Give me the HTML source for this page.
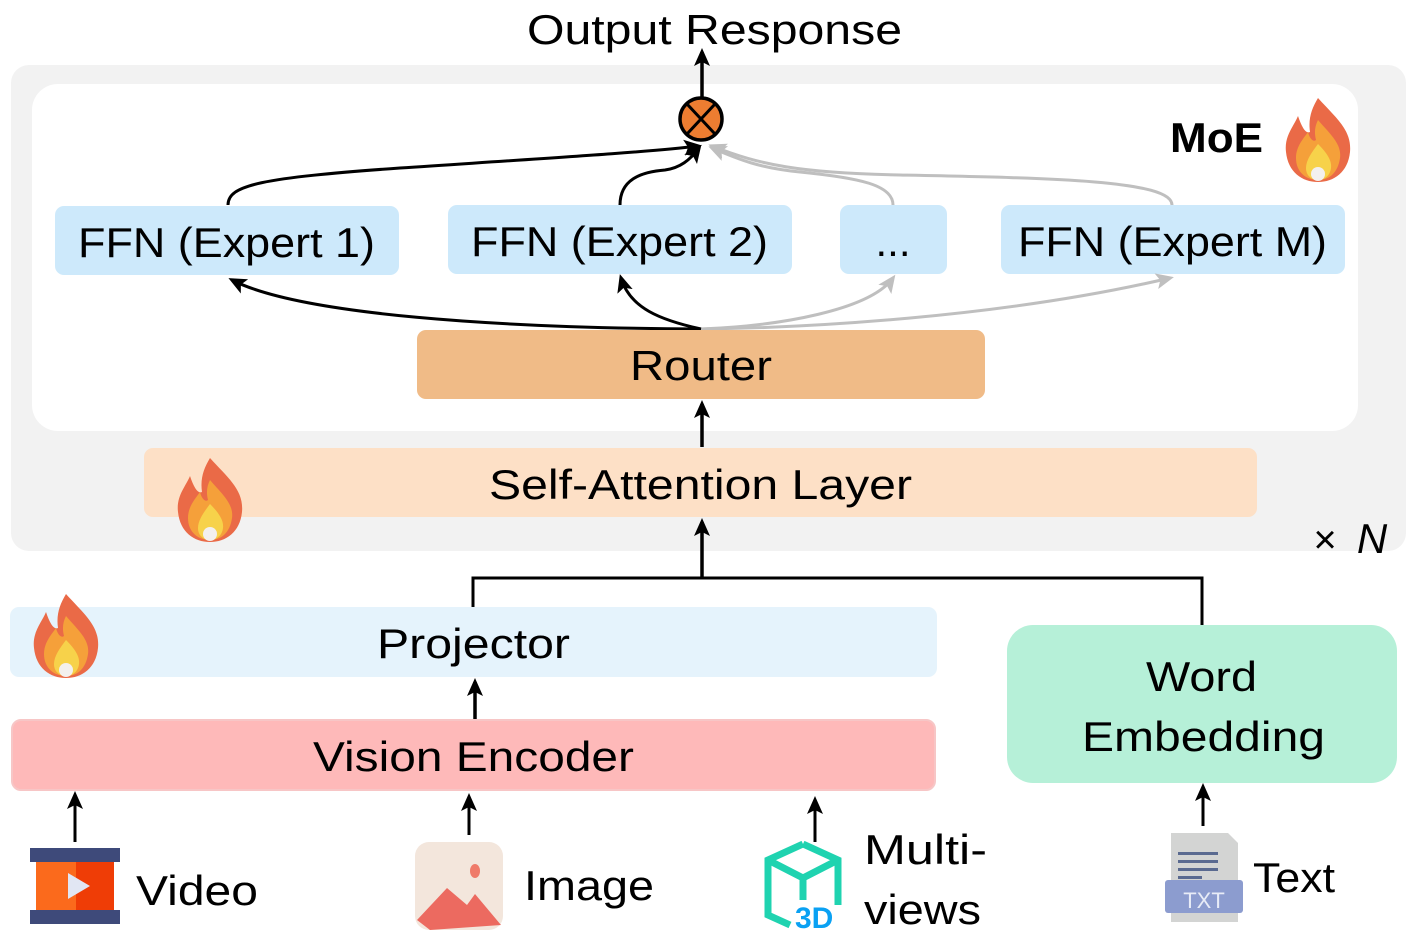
<!DOCTYPE html>
<html><head><meta charset="utf-8"><style>
body{margin:0;background:#fff;width:1414px;height:948px;overflow:hidden}
svg{display:block}
text{font-family:"Liberation Sans",sans-serif;fill:#000}
</style></head><body>
<svg width="1414" height="948" viewBox="0 0 1414 948">
<defs>
<marker id="abig" markerWidth="18" markerHeight="18" refX="14" refY="9" orient="auto" markerUnits="userSpaceOnUse"><path d="M0,1 L18,9 L0,17 L4,9 Z" fill="#000"/></marker>
<marker id="agray" markerWidth="18" markerHeight="18" refX="14" refY="9" orient="auto" markerUnits="userSpaceOnUse"><path d="M0,1 L18,9 L0,17 L4,9 Z" fill="#bfbfbf"/></marker>
<g id="fire">
<path d="M0,-42 C18,-22 34,-10 32,12 C30,32 16,42 0,42 C-16,42 -30,32 -32,12 C-34,-4 -24,-14 -20,-24 C-16,-12 -12,-6 -8,-8 C-10,-22 -6,-32 0,-42Z" fill="#ea6a47"/>
<path d="M0,-20 C12,-6 24,4 22,18 C20,32 12,40 0,40 C-12,40 -22,32 -22,18 C-22,6 -14,-2 -10,-8 C-8,0 -4,2 -2,0 C-4,-8 -3,-14 0,-20Z" fill="#f5a03a"/>
<path d="M0,4 C8,12 14,20 13,28 C12,36 6,40 0,40 C-6,40 -12,36 -12,28 C-12,20 -6,12 0,4Z" fill="#f7d24a"/>
<ellipse cx="0" cy="34" rx="7" ry="7" fill="#f3f0ee"/>
</g>
</defs>

<rect x="11" y="65" width="1395" height="486" rx="18" fill="#f2f2f2"/>
<rect x="32" y="84" width="1326" height="347" rx="26" fill="#fff"/>

<text x="527" y="44" font-size="42" textLength="375" lengthAdjust="spacingAndGlyphs">Output Response</text>
<line x1="702" y1="99" x2="702" y2="52" stroke="#000" stroke-width="3.5" marker-end="url(#abig)"/>

<path d="M1172,205 C1172,180 1050,178 900,175 C800,173 760,165 712,146" fill="none" stroke="#bfbfbf" stroke-width="3" marker-end="url(#agray)"/>
<path d="M893,205 C893,185 860,178 800,172 C760,168 740,160 712,148" fill="none" stroke="#bfbfbf" stroke-width="3" marker-end="url(#agray)"/>
<path d="M228,205 C228,185 260,178 400,168 C550,158 650,152 698,146" fill="none" stroke="#000" stroke-width="3" marker-end="url(#abig)"/>
<path d="M620,205 C620,180 640,172 665,170 C680,168 690,160 699,148" fill="none" stroke="#000" stroke-width="3" marker-end="url(#abig)"/>

<circle cx="701" cy="119" r="21" fill="#ed7d31" stroke="#000" stroke-width="3.5"/>
<line x1="687" y1="104" x2="715" y2="134" stroke="#000" stroke-width="3"/>
<line x1="715" y1="104" x2="687" y2="134" stroke="#000" stroke-width="3"/>

<text x="1170" y="152" font-size="42" font-weight="bold" textLength="93" lengthAdjust="spacingAndGlyphs">MoE</text>
<use href="#fire" transform="translate(1318,140)"/>

<rect x="55" y="206" width="344" height="69" rx="9" fill="#cde9fb"/>
<rect x="448" y="205" width="344" height="69" rx="9" fill="#cde9fb"/>
<rect x="840" y="205" width="107" height="69" rx="9" fill="#cde9fb"/>
<rect x="1001" y="205" width="344" height="69" rx="9" fill="#cde9fb"/>
<text x="78" y="257" font-size="42" textLength="297" lengthAdjust="spacingAndGlyphs">FFN (Expert 1)</text>
<text x="471" y="256" font-size="42" textLength="297" lengthAdjust="spacingAndGlyphs">FFN (Expert 2)</text>
<text x="893" y="256" font-size="42" text-anchor="middle">...</text>
<text x="1018" y="256" font-size="42" textLength="309" lengthAdjust="spacingAndGlyphs">FFN (Expert M)</text>

<path d="M701,329 C800,328 1000,318 1170,278" fill="none" stroke="#bfbfbf" stroke-width="3" marker-end="url(#agray)"/>
<path d="M701,329 C780,326 870,310 893,278" fill="none" stroke="#bfbfbf" stroke-width="3" marker-end="url(#agray)"/>
<path d="M701,329 C500,328 300,315 232,280" fill="none" stroke="#000" stroke-width="3" marker-end="url(#abig)"/>
<path d="M701,329 C660,320 630,308 621,278" fill="none" stroke="#000" stroke-width="3" marker-end="url(#abig)"/>

<rect x="417" y="330" width="568" height="69" rx="9" fill="#f0bb87"/>
<text x="630" y="380" font-size="42" textLength="142" lengthAdjust="spacingAndGlyphs">Router</text>
<line x1="702" y1="447" x2="702" y2="404" stroke="#000" stroke-width="3.5" marker-end="url(#abig)"/>

<rect x="144" y="448" width="1113" height="69" rx="9" fill="#fde0c6"/>
<text x="489" y="499" font-size="42" textLength="423" lengthAdjust="spacingAndGlyphs">Self-Attention Layer</text>
<use href="#fire" transform="translate(210,500)"/>

<text x="1325" y="553" font-size="40" text-anchor="middle">×</text>
<text x="1372" y="553" font-size="42" font-style="italic" font-family="Liberation Serif" text-anchor="middle">N</text>

<polyline points="473,607 473,578 1202,578 1202,625" fill="none" stroke="#000" stroke-width="3"/>
<line x1="702" y1="578" x2="702" y2="522" stroke="#000" stroke-width="3.5" marker-end="url(#abig)"/>

<rect x="10" y="607" width="927" height="70" rx="9" fill="#e5f3fc"/>
<text x="377" y="658" font-size="42" textLength="193" lengthAdjust="spacingAndGlyphs">Projector</text>
<use href="#fire" transform="translate(66,636)"/>
<line x1="475" y1="719" x2="475" y2="682" stroke="#000" stroke-width="3.5" marker-end="url(#abig)"/>

<rect x="12" y="720" width="923" height="70" rx="9" fill="#feb9b9" stroke="#f7c6c6" stroke-width="2"/>
<text x="313" y="771" font-size="42" textLength="321" lengthAdjust="spacingAndGlyphs">Vision Encoder</text>

<rect x="1007" y="625" width="390" height="158" rx="26" fill="#b6f0d8"/>
<text x="1146" y="691" font-size="42" textLength="111" lengthAdjust="spacingAndGlyphs">Word</text>
<text x="1082" y="751" font-size="42" textLength="243" lengthAdjust="spacingAndGlyphs">Embedding</text>

<line x1="75" y1="842" x2="75" y2="795" stroke="#000" stroke-width="3" marker-end="url(#abig)"/>
<line x1="469" y1="835" x2="469" y2="797" stroke="#000" stroke-width="3" marker-end="url(#abig)"/>
<line x1="815" y1="842" x2="815" y2="800" stroke="#000" stroke-width="3" marker-end="url(#abig)"/>
<line x1="1203" y1="826" x2="1203" y2="787" stroke="#000" stroke-width="3" marker-end="url(#abig)"/>

<rect x="30" y="848" width="90" height="14" fill="#3e4a7a"/>
<rect x="30" y="910" width="90" height="14" fill="#3e4a7a"/>
<rect x="36" y="862" width="40" height="48" fill="#fb6a1c"/>
<rect x="76" y="862" width="38" height="48" fill="#ef3d06"/>
<path d="M68,873 L90,886 L68,899Z" fill="#e1e6f3"/>
<text x="136" y="905" font-size="42" textLength="122" lengthAdjust="spacingAndGlyphs">Video</text>

<rect x="415" y="842" width="88" height="88" rx="14" fill="#f3e6dc"/>
<ellipse cx="475" cy="871" rx="5" ry="7" fill="#ef7b6a"/>
<path d="M417,920 L447,888 L467,905 L475,894 L501,925 L430,930Z" fill="#ec6a60"/>
<text x="524" y="900" font-size="42" textLength="130" lengthAdjust="spacingAndGlyphs">Image</text>

<path d="M803,844 L838,860 L838,905 M803,844 L768,860 L768,915 L790,925 M768,860 L803,878 L838,860 M803,878 L803,900" fill="none" stroke="#1fd3b0" stroke-width="7"/>
<text x="795" y="928" font-size="30" font-weight="bold" style="fill:#0aa1f3">3D</text>
<text x="864" y="864" font-size="42" textLength="123" lengthAdjust="spacingAndGlyphs">Multi-</text>
<text x="864" y="924" font-size="42" textLength="117" lengthAdjust="spacingAndGlyphs">views</text>

<path d="M1171,833 L1228,833 L1238,843 L1238,922 L1171,922Z" fill="#d3d4d3"/>
<rect x="1178" y="852" width="40" height="3" fill="#5a6a90"/>
<rect x="1178" y="860" width="40" height="3" fill="#5a6a90"/>
<rect x="1178" y="868" width="40" height="3" fill="#5a6a90"/>
<rect x="1178" y="876" width="24" height="3" fill="#5a6a90"/>
<rect x="1165" y="880" width="78" height="33" rx="3" fill="#8c9ccf"/>
<text x="1204" y="908" font-size="22" text-anchor="middle" style="fill:#e8ecf7">TXT</text>
<text x="1253" y="892" font-size="42" textLength="82" lengthAdjust="spacingAndGlyphs">Text</text>
</svg>
</body></html>
